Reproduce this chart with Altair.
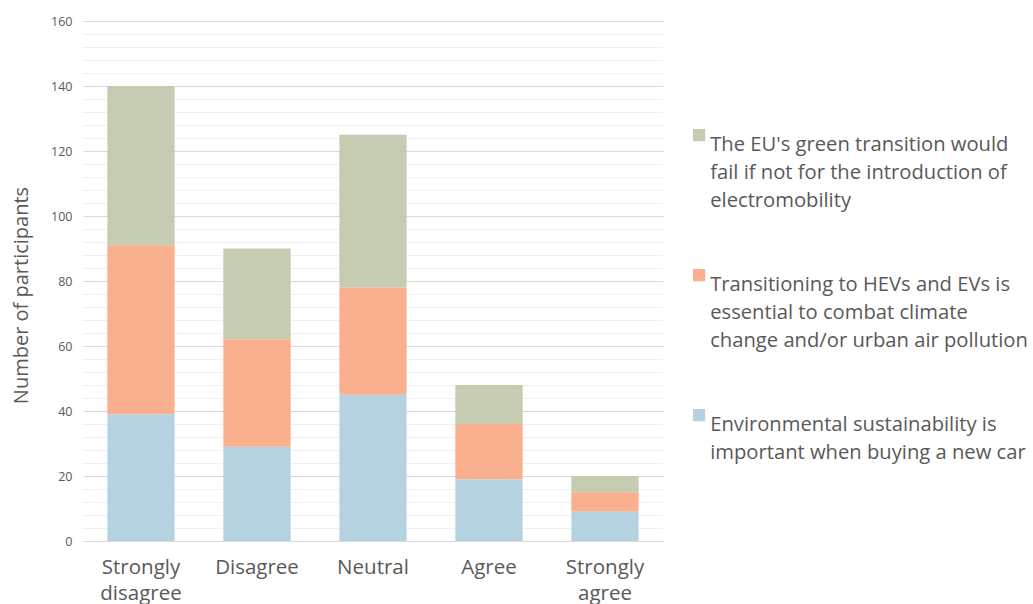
import altair as alt
import pandas as pd

categories = ["Strongly disagree", "Disagree", "Neutral", "Agree", "Strongly agree"]
cat_labels = ["Strongly|disagree", "Disagree", "Neutral", "Agree", "Strongly|agree"]
series = [
    "The EU's green transition would fail if not for the introduction of electromobility",
    "Transitioning to HEVs and EVs is essential to combat climate change and/or urban air pollution",
    "Environmental sustainability is important when buying a new car",
]
series_labels = [
    "The EU's green transition would|fail if not for the introduction of|electromobility",
    "Transitioning to HEVs and EVs is|essential to combat climate|change and/or urban air pollution",
    "Environmental sustainability is|important when buying a new car",
]
green_vals = [49, 28, 47, 12, 5]
orange_vals = [52, 33, 33, 17, 6]
blue_vals = [39, 29, 45, 19, 9]
colors = ["#C6CCB2", "#FAB08E", "#B5D2E0"]
stack_rank = [2, 1, 0]

rows = []
for s, vals, rk, sl in zip(series, [green_vals, orange_vals, blue_vals], stack_rank, series_labels):
    for c, cl, v in zip(categories, cat_labels, vals):
        rows.append({"category": cl, "series": sl, "value": v, "rank": rk})
df = pd.DataFrame(rows)

FONT = "Open Sans"
GRAY = "#595959"

chart = alt.Chart(df).mark_bar(strokeWidth=0).encode(
    x=alt.X("category:N", sort=cat_labels,
            scale=alt.Scale(paddingInner=0.42, paddingOuter=0.21),
            axis=alt.Axis(title=None, labelAngle=0, labelFontSize=20.5, labelColor=GRAY,
                          labelFont=FONT, labelExpr="split(datum.label, '|')",
                          labelLineHeight=26, labelPadding=16, labelBaseline="top",
                          ticks=False, domain=False, grid=False)),
    y=alt.Y("value:Q", stack="zero",
            scale=alt.Scale(domain=[0, 160], nice=False),
            axis=alt.Axis(title="Number of participants", values=list(range(0, 161, 4)),
                          labelExpr="datum.value % 20 === 0 ? datum.label : ''",
                          labelFontSize=12.5, labelColor=GRAY, labelFont=FONT, labelPadding=11,
                          ticks=False, domain=False,
                          gridColor={"condition": {"test": "datum.value % 20 === 0", "value": "#D9D9D9"}, "value": "#F0F0F0"},
                          gridWidth=1.2,
                          titleFontSize=20, titleFont=FONT, titleColor=GRAY, titleFontWeight="normal",
                          titleX=-62, titleY=274, titleAngle=-90, titleAlign="center",
                          titleBaseline="middle")),
    color=alt.Color("series:N", sort=series_labels,
                    scale=alt.Scale(domain=series_labels, range=colors),
                    legend=alt.Legend(title=None, orient="none", legendX=606, legendY=104,
                                      labelExpr="split(datum.label, '|')",
                                      labelFontSize=20.2, labelFont=FONT, labelColor=GRAY,
                                      labelBaseline="top", labelOffset=1,
                                      labelLimit=420, symbolType="square", symbolSize=150,
                                      symbolStrokeWidth=0, rowPadding=53, padding=0)),
    order=alt.Order("rank:Q", sort="ascending"),
).properties(
    width=580, height=520,
    autosize=alt.AutoSizeParams(type="none"),
    padding={"left": 83, "top": 21, "right": 370, "bottom": 63},
).configure(style={"guide-label": {"lineHeight": 28}}).configure_view(stroke=None)

chart.save("out.html", embed_options={"renderer": "svg", "actions": False})
